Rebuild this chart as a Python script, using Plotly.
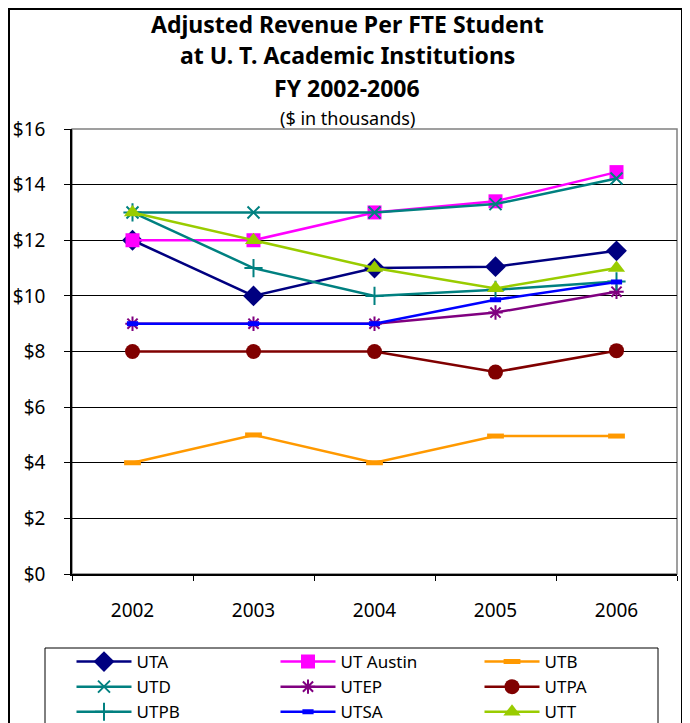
import plotly.graph_objects as go

# data ($ in thousands)
years = ["2002", "2003", "2004", "2005", "2006"]
uta = [12.0, 10.0, 11.0, 11.05, 11.62]
ut_austin = [12.0, 12.0, 13.0, 13.4, 14.45]
utb = [4.0, 5.0, 4.0, 4.96, 4.96]
utd = [13.0, 13.0, 13.0, 13.3, 14.22]
utep = [9.0, 9.0, 9.0, 9.4, 10.15]
utpa = [8.0, 8.0, 8.0, 7.26, 8.03]
utpb = [13.0, 11.0, 10.0, 10.22, 10.52]
utsa = [9.0, 9.0, 9.0, 9.86, 10.5]
utt = [13.0, 12.0, 11.0, 10.27, 11.0]

FONT = "Noto Sans, Tahoma, sans-serif"

# name, values, color, marker symbol, marker size, line-type marker?
series = [
    ("UTA", uta, "#000080", "diamond", 16, False),
    ("UT Austin", ut_austin, "#FF00FF", "square", 14, False),
    ("UTB", utb, "#FF9900", "line-ew", 12, True),
    ("UTD", utd, "#008080", "x-thin", 12, True),
    ("UTEP", utep, "#800080", "asterisk", 12, True),
    ("UTPA", utpa, "#800000", "circle", 15, False),
    ("UTPB", utpb, "#008080", "cross-thin", 13, True),
    ("UTSA", utsa, "#0000FF", "line-ew", 8, True),
    ("UTT", utt, "#99CC00", "triangle-up", 15, False),
]

fig = go.Figure()
for name, vals, color, symbol, size, thin in series:
    if thin:
        mline = dict(color=color, width=5 if symbol == "line-ew" else 2)
    else:
        mline = dict(width=0)
    fig.add_trace(go.Scatter(
        x=years, y=vals, name=name, mode="lines+markers",
        line=dict(color=color, width=2.5),
        marker=dict(symbol=symbol, size=size, color=color, line=mline),
    ))

# page geometry: the page body adds an 8px offset, so the figure is
# drawn 8px smaller and every screen position is shifted by it
OFF = 8
W, H = 690 - OFF, 723 - OFF
L, R, T, B = 72 - OFF, 13, 129 - OFF, 149
pw, ph = W - L - R, H - T - B

def px_x(x):
    return (x - OFF - L) / pw

def px_y(y):
    return (H - B - (y - OFF)) / ph

shapes = [
    # outer chart border (as close to the page edge as the offset allows)
    dict(type="rect", xref="paper", yref="paper",
         x0=px_x(9), x1=px_x(682), y0=px_y(740), y1=px_y(9),
         line=dict(color="black", width=2), layer="below"),
    # plot area border (gray)
    dict(type="rect", xref="paper", yref="paper",
         x0=0, x1=1, y0=0, y1=1,
         line=dict(color="#808080", width=1.5), layer="below"),
    # legend box
    dict(type="rect", xref="paper", yref="paper",
         x0=px_x(45), x1=px_x(658), y0=px_y(740), y1=px_y(648),
         line=dict(color="black", width=1), layer="below"),
]

title_lines = [
    ("<b>Adjusted Revenue Per FTE Student</b>", 24, 23),
    ("<b>at U. T. Academic Institutions</b>", 55, 23),
    ("<b>FY 2002-2006</b>", 88, 23),
    ("($ in thousands)", 118, 18),
]
annotations = [
    dict(text=t, xref="paper", yref="paper", x=px_x(347), y=px_y(yc),
         xanchor="center", yanchor="middle", showarrow=False,
         font=dict(family=FONT, size=s, color="black"))
    for t, yc, s in title_lines
]

fig.update_layout(
    width=W, height=H,
    margin=dict(l=L, r=R, t=T, b=B, autoexpand=False),
    paper_bgcolor="white", plot_bgcolor="white",
    font=dict(family=FONT, size=18, color="black"),
    shapes=shapes, annotations=annotations,
    showlegend=True,
    legend=dict(
        orientation="h", x=px_x(71.5), y=px_y(644),
        xanchor="left", yanchor="top",
        entrywidth=134, entrywidthmode="pixels",
        bgcolor="rgba(0,0,0,0)", borderwidth=0,
        font=dict(family=FONT, size=17, color="black"),
        tracegroupgap=0, itemwidth=55,
    ),
)

fig.update_xaxes(
    type="category", range=[-0.5, 4.5], showgrid=False,
    showline=True, linecolor="black", linewidth=1.5,
    ticks="outside", tickson="boundaries", ticklen=5, tickcolor="black",
    ticklabelstandoff=18, tickfont=dict(size=19),
)
fig.update_yaxes(
    range=[0, 16], dtick=2, tickprefix="$",
    showgrid=True, gridcolor="black", gridwidth=1,
    showline=True, linecolor="black", linewidth=1.5,
    ticks="outside", ticklen=6, tickcolor="black",
    ticklabelstandoff=15, tickfont=dict(size=19),
    zeroline=False,
)

fig.write_html("out.html")
